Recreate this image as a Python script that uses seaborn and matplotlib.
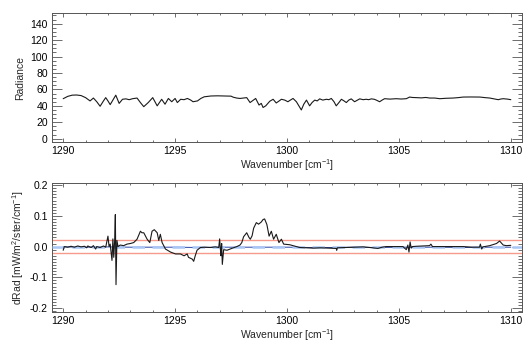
import numpy as np
import pandas as pd
import matplotlib
matplotlib.use("Agg")
import matplotlib.pyplot as plt
from matplotlib.ticker import MultipleLocator, FixedLocator, FixedFormatter
import seaborn as sns

# Observed radiance spectrum
wn_rad = [1290.0, 1290.2, 1290.4, 1290.6, 1290.8, 1291.0, 1291.2, 1291.35, 1291.5, 1291.65,
          1291.8, 1291.9, 1292.0, 1292.1, 1292.22, 1292.35, 1292.5, 1292.65, 1292.8, 1292.95,
          1293.1, 1293.3, 1293.45, 1293.6, 1293.8, 1294.0, 1294.2, 1294.3, 1294.4, 1294.55,
          1294.7, 1294.85, 1295.0, 1295.1, 1295.25, 1295.4, 1295.55, 1295.7, 1295.8, 1296.0,
          1296.15, 1296.3, 1296.6, 1296.9, 1297.2, 1297.5, 1297.6, 1297.75, 1297.9, 1298.05,
          1298.2, 1298.35, 1298.5, 1298.6, 1298.75, 1298.85, 1298.93, 1299.05, 1299.23, 1299.38,
          1299.52, 1299.65, 1299.75, 1299.9, 1300.04, 1300.15, 1300.27, 1300.42, 1300.64, 1300.75,
          1300.87, 1301.01, 1301.12, 1301.24, 1301.35, 1301.46, 1301.6, 1301.76, 1301.87, 1301.98,
          1302.1, 1302.2, 1302.32, 1302.43, 1302.55, 1302.65, 1302.76, 1302.87, 1303.02, 1303.15,
          1303.25, 1303.4, 1303.54, 1303.65, 1303.77, 1303.9, 1303.99, 1304.14, 1304.25, 1304.36,
          1304.6, 1304.88, 1305.1, 1305.33, 1305.48, 1305.6, 1305.78, 1306.0, 1306.2, 1306.38,
          1306.6, 1306.83, 1307.1, 1307.42, 1307.65, 1307.87, 1308.2, 1308.62, 1308.85, 1309.06,
          1309.25, 1309.44, 1309.55, 1309.66, 1309.85, 1310.0]
radiance = [48.7, 51.5, 53.0, 53.2, 52.5, 50.0, 46.0, 49.5, 45.0, 39.5,
            46.0, 50.0, 46.0, 41.5, 47.0, 53.0, 43.0, 48.0, 48.5, 47.5,
            48.7, 49.5, 44.0, 39.0, 44.0, 50.0, 40.0, 44.0, 48.0, 42.0,
            49.0, 45.0, 49.0, 44.0, 48.0, 47.5, 49.0, 47.0, 45.0, 46.0,
            49.0, 51.0, 52.0, 52.2, 52.0, 51.8, 50.5, 49.5, 49.0, 49.5,
            50.0, 44.0, 47.0, 49.0, 41.0, 43.0, 38.0, 40.0, 45.6, 48.0,
            43.5, 46.0, 48.0, 47.0, 45.0, 47.0, 49.0, 45.0, 35.0, 42.0,
            47.0, 40.0, 44.0, 47.0, 46.0, 48.5, 47.0, 48.0, 47.5, 49.0,
            45.0, 40.0, 44.0, 48.0, 46.0, 44.0, 47.0, 48.5, 45.0, 47.0,
            48.5, 47.5, 48.0, 47.5, 48.5, 48.0, 47.0, 45.0, 47.0, 48.7,
            48.2, 48.7, 48.3, 48.7, 50.7, 50.2, 50.0, 49.7, 50.2, 49.5,
            49.5, 48.7, 49.2, 49.5, 50.0, 50.7, 50.8, 50.7, 50.0, 49.5,
            48.5, 47.5, 48.3, 48.7, 48.2, 47.5]

# Radiance difference (observed - calculated)
wn_diff = [1290.0, 1290.05, 1290.2, 1290.35, 1290.5, 1290.65, 1290.8, 1290.95, 1291.05, 1291.1,
           1291.25, 1291.35, 1291.45, 1291.5, 1291.65, 1291.8, 1291.9, 1292.0, 1292.05, 1292.1,
           1292.18, 1292.22, 1292.26, 1292.3, 1292.33, 1292.36, 1292.4, 1292.45, 1292.55, 1292.7,
           1292.85, 1293.0, 1293.15, 1293.3, 1293.45, 1293.52, 1293.6, 1293.75, 1293.87, 1293.97,
           1294.07, 1294.2, 1294.27, 1294.34, 1294.42, 1294.57, 1294.8, 1295.02, 1295.24, 1295.4,
           1295.54, 1295.6, 1295.77, 1295.83, 1295.9, 1295.98, 1296.13, 1296.35, 1296.57, 1296.8,
           1296.95, 1296.99, 1297.02, 1297.05, 1297.08, 1297.11, 1297.17, 1297.32, 1297.46, 1297.6,
           1297.76, 1297.9, 1297.98, 1298.06, 1298.2, 1298.3, 1298.36, 1298.44, 1298.51, 1298.63,
           1298.73, 1298.85, 1298.93, 1299.0, 1299.1, 1299.2, 1299.3, 1299.4, 1299.52, 1299.64,
           1299.75, 1299.85, 1300.12, 1300.42, 1300.57, 1300.9, 1301.16, 1301.5, 1301.8, 1302.2,
           1302.22, 1302.25, 1302.6, 1303.0, 1303.4, 1303.7, 1304.06, 1304.25, 1304.43, 1304.8,
           1305.18, 1305.33, 1305.4, 1305.45, 1305.5, 1305.55, 1305.6, 1305.78, 1306.1, 1306.37,
           1306.43, 1306.5, 1306.9, 1307.4, 1307.87, 1308.3, 1308.6, 1308.64, 1308.7, 1308.75,
           1309.06, 1309.36, 1309.5, 1309.66, 1309.8, 1310.0]
drad = [-0.012, 0.0, -0.002, 0.001, -0.002, 0.002, -0.001, 0.001, -0.004, 0.002,
        -0.003, 0.003, -0.008, 0.0, -0.003, 0.002, -0.002, 0.034, 0.0, 0.008,
        -0.045, 0.025, -0.035, 0.02, 0.104, -0.124, 0.02, 0.0, 0.005, 0.003,
        0.008, 0.01, 0.013, 0.024, 0.05, 0.045, 0.045, 0.024, 0.013, 0.05,
        0.055, 0.045, 0.02, 0.04, 0.013, -0.008, -0.018, -0.024, -0.024, -0.03,
        -0.024, -0.035, -0.041, -0.048, -0.03, -0.012, -0.003, -0.002, -0.003, -0.001,
        -0.003, 0.025, -0.005, -0.03, 0.01, -0.058, -0.01, -0.012, -0.008, -0.004,
        0.0, 0.005, 0.013, 0.032, 0.045, 0.03, 0.024, 0.035, 0.06, 0.078,
        0.073, 0.08, 0.088, 0.09, 0.072, 0.034, 0.05, 0.024, 0.04, 0.013,
        0.024, 0.008, 0.006, 0.0, -0.003, -0.004, -0.005, -0.004, -0.005, -0.006,
        -0.012, -0.004, -0.003, -0.002, -0.001, -0.003, -0.006, -0.002, 0.0, 0.0,
        0.0, -0.01, 0.005, -0.018, 0.015, -0.005, 0.0, 0.001, 0.002, 0.003,
        0.008, 0.0, 0.0, 0.0, 0.0, -0.002, -0.002, 0.008, -0.008, -0.001,
        0.003, 0.01, 0.018, 0.005, 0.003, 0.004]

# Smooth baseline of the difference
wn_base = [1290.0, 1291.0, 1292.0, 1293.0, 1294.0, 1295.0, 1296.0, 1297.0, 1298.0, 1299.0,
           1300.0, 1301.0, 1302.0, 1303.0, 1304.0, 1305.0, 1306.0, 1307.0, 1308.0, 1309.0, 1310.0]
drad_base = [-0.001, -0.002, -0.001, -0.002, -0.002, -0.002, -0.003, -0.002, -0.002, -0.002,
             -0.002, -0.003, -0.003, -0.002, -0.003, -0.002, -0.002, -0.002, -0.003, -0.002, -0.002]

noise_level = 0.02
rad_ticks = [0, 20, 40, 60, 80, 100, 120, 140]
drad_ticks = [-0.2, -0.1, 0.0, 0.1, 0.2]
drad_ticklabels = ["-0.2", "-0.1", "0.0", "0.1", "0.2"]
wn_ticks = [1290, 1295, 1300, 1305, 1310]

sns.set_style("ticks")
plt.rcParams["font.family"] = ["Liberation Sans", "DejaVu Sans"]
plt.rcParams["mathtext.fontset"] = "custom"
plt.rcParams["mathtext.rm"] = "Liberation Sans"
plt.rcParams["mathtext.it"] = "Liberation Sans:italic"
plt.rcParams["axes.unicode_minus"] = False
plt.rcParams["font.size"] = 7.5

fig = plt.figure(figsize=(5.26, 3.44), dpi=100)
W, H = 526.0, 344.0
ax1 = fig.add_axes([52 / W, (H - 142) / H, 470 / W, 129 / H])
ax2 = fig.add_axes([52 / W, (H - 312) / H, 470 / W, 129 / H])

df_rad = pd.DataFrame({"wn": wn_rad, "rad": radiance})
df_diff = pd.DataFrame({"wn": wn_diff, "drad": drad})
df_base = pd.DataFrame({"wn": wn_base, "drad": drad_base})

sns.lineplot(data=df_rad, x="wn", y="rad", ax=ax1, color="#1a1a1a", lw=0.8,
             estimator=None, sort=False)

ax2.axhline(noise_level, color="#f59a8c", lw=1.0, zorder=1)
ax2.axhline(-noise_level, color="#f59a8c", lw=1.0, zorder=1)
sns.lineplot(data=df_base, x="wn", y="drad", ax=ax2, color="#2a44a8", lw=0.7,
             estimator=None, sort=False, zorder=2)
ax2.axhline(0.0, color="#a9c6f5", lw=1.8, ls=(0, (5, 3)), zorder=3)
sns.lineplot(data=df_diff, x="wn", y="drad", ax=ax2, color="#1a1a1a", lw=0.8,
             estimator=None, sort=False, zorder=4)

for ax in (ax1, ax2):
    ax.set_xlim(1289.5, 1310.5)
    ax.xaxis.set_major_locator(FixedLocator(wn_ticks))
    ax.xaxis.set_minor_locator(MultipleLocator(1))
    ax.set_xticklabels([str(t) for t in wn_ticks])
    ax.set_xlabel("Wavenumber [cm$^{-1}$]", labelpad=1)
    ax.tick_params(axis="both", which="both", direction="in", top=True, right=True,
                   colors="#555555", labelcolor="black", width=0.6)
    ax.tick_params(axis="x", which="major", length=3, pad=3)
    ax.tick_params(axis="x", which="minor", length=1.5)
    ax.tick_params(axis="y", which="major", length=7, pad=3)
    ax.tick_params(axis="y", which="minor", length=3)
    for s in ax.spines.values():
        s.set_linewidth(0.7)
        s.set_color("#555555")

ax1.set_ylim(-4, 153)
ax1.yaxis.set_major_locator(FixedLocator(rad_ticks))
ax1.yaxis.set_minor_locator(MultipleLocator(5))
ax1.set_yticklabels([str(t) for t in rad_ticks])
ax1.set_ylabel("Radiance", labelpad=4)

ax2.set_ylim(-0.213, 0.207)
ax2.yaxis.set_major_locator(FixedLocator(drad_ticks))
ax2.yaxis.set_minor_locator(MultipleLocator(0.01))
ax2.yaxis.set_major_formatter(FixedFormatter(drad_ticklabels))
ax2.set_ylabel("dRad [mW/m$^2$/ster/cm$^{-1}$]", labelpad=3)

fig.savefig("out.png", dpi=100)
